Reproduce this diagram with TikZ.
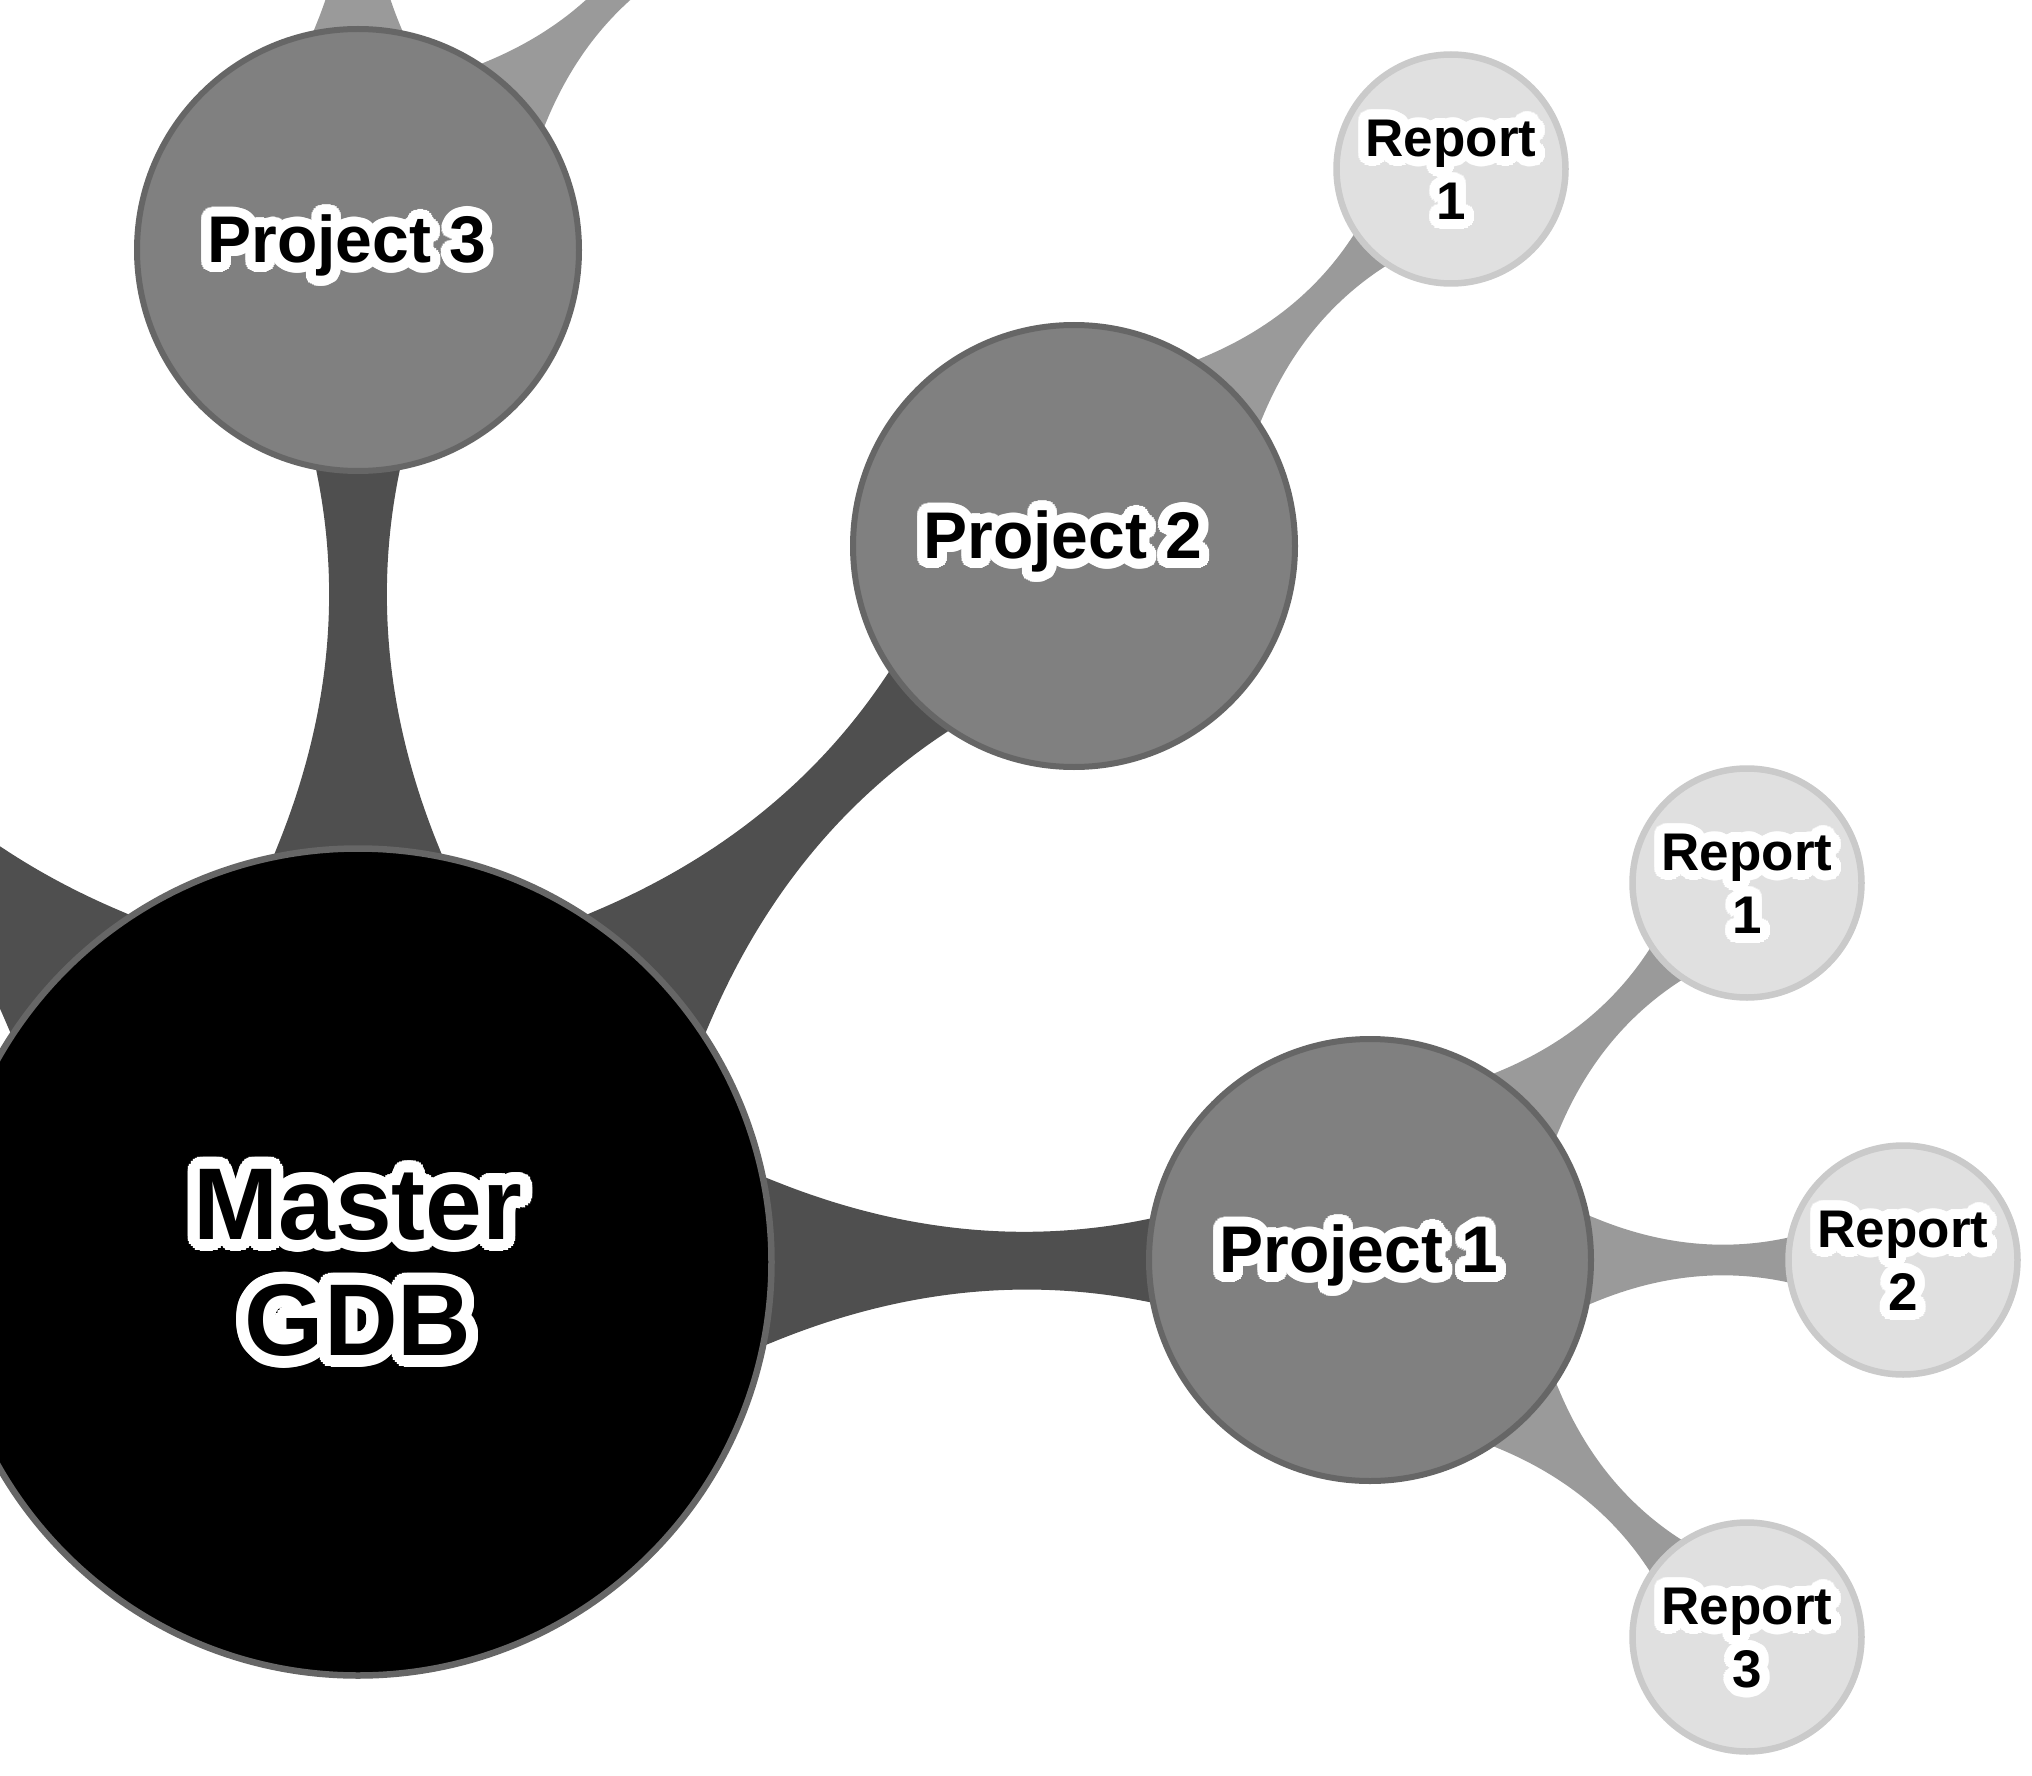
\documentclass[tikz,border=0pt]{standalone}
\usepackage{fontspec}
\setmainfont{Liberation Sans}
\usetikzlibrary{calc}
\definecolor{ringdark}{HTML}{666666}
\definecolor{projfill}{HTML}{808080}
\definecolor{repfill}{HTML}{E0E0E0}
\definecolor{repring}{HTML}{CACACA}
\definecolor{linkone}{HTML}{4F4F4F}
\definecolor{linktwo}{HTML}{9A9A9A}
\pgfdeclarelayer{bg}
\pgfsetlayers{bg,main}
\tikzset{
  masternode/.style={circle, draw=ringdark, line width=6.5pt, fill=black, minimum size=827pt, inner sep=0pt},
  projnode/.style={circle, draw=ringdark, line width=6pt, fill=projfill, minimum size=442pt, inner sep=0pt},
  repnode/.style={circle, draw=repring, line width=6.5pt, fill=repfill, minimum size=229pt, inner sep=0pt},
  mastertext/.style={inner sep=0pt, text=black, font=\bfseries\fontsize{102}{116}\selectfont},
  projtext/.style={inner sep=0pt, text=black, font=\bfseries\fontsize{66}{79}\selectfont},
  reptext/.style={inner sep=0pt, text=black, font=\bfseries\fontsize{53}{63}\selectfont},
  bandone/.style={fill=linkone},
  bandtwo/.style={fill=linktwo},
}
\newsavebox\halowbox
\newsavebox\halokbox
\newcommand\haloed[2]{%
  \sbox\halowbox{\color{white}\begin{tabular}{@{}c@{}}#2\end{tabular}}%
  \sbox\halokbox{\color{black}\begin{tabular}{@{}c@{}}#2\end{tabular}}%
  \leavevmode
  \foreach \hr/\hn in {#1/28, #1*0.6/16, #1*0.3/8}{%
    \foreach \hi in {1,...,\hn}{%
      \pgfmathsetlengthmacro\hx{(\hr)*cos(360*\hi/\hn)}%
      \pgfmathsetlengthmacro\hy{(\hr)*sin(360*\hi/\hn)}%
      \rlap{\kern\hx\raisebox{\hy}{\usebox\halowbox}}%
    }%
  }%
  \usebox\halokbox}
% tapered connector from parent #1 to child #2
% #3 parent radius, #4 child radius, #5 width scale, #6 style
\newcommand\mmband[6]{%
  \path (#1); \pgfgetlastxy{\mmPx}{\mmPy}%
  \path (#2); \pgfgetlastxy{\mmCx}{\mmCy}%
  \pgfmathsetmacro\mmAng{atan2(\mmCy-\mmPy,\mmCx-\mmPx)}%
  \pgfmathsetmacro\mmD{veclen(\mmCx-\mmPx,\mmCy-\mmPy)}%
  \pgfmathsetmacro\mmA{#3}%
  \pgfmathsetmacro\mmB{\mmD-#4}%
  \pgfmathsetmacro\mmCa{\mmA+(\mmB-\mmA)/3}%
  \pgfmathsetmacro\mmCb{\mmA+2*(\mmB-\mmA)/3}%
  \pgfmathsetmacro\mmK{#5}%
  \fill[#6, shift={(#1)}, rotate=\mmAng, x=1pt, y=1pt]
    (\mmA-30*\mmK, 92*\mmK) -- (\mmA, 80*\mmK)
    .. controls (\mmCa, 30*\mmK) and (\mmCb, 16*\mmK) .. (\mmB, 41*\mmK)
    -- (\mmB+30*\mmK, 47*\mmK) -- (\mmB+30*\mmK, -47*\mmK) -- (\mmB, -41*\mmK)
    .. controls (\mmCb, -16*\mmK) and (\mmCa, -30*\mmK) .. (\mmA, -80*\mmK)
    -- (\mmA-30*\mmK, -92*\mmK) -- cycle;
}
\begin{document}
\begin{tikzpicture}[x=1pt,y=-1pt]
\useasboundingbox (0,0) rectangle (2032,1776);
% circles
\node[masternode] (m) at (358,1262) {};
\node[projnode] (p3) at (358,250) {};
\node[projnode] (p2) at (1074,546) {};
\node[projnode] (p1) at (1370,1260) {};
\node[repnode] (r21) at (1451,169) {};
\node[repnode] (r11) at (1747,883) {};
\node[repnode] (r12) at (1903,1260) {};
\node[repnode] (r13) at (1747,1637) {};
% free ends of connectors leaving the picture
\coordinate (m4) at (-358,546);
\coordinate (p3a) at (358,-283);
\coordinate (p3b) at (735,-127);
% connectors
\begin{pgfonlayer}{bg}
  \clip (0,0) rectangle (2032,1776);
  \mmband{m}{p3}{417}{224}{1}{bandone}
  \mmband{m}{p2}{417}{224}{1}{bandone}
  \mmband{m}{p1}{417}{224}{1}{bandone}
  \mmband{m}{m4}{417}{224}{1}{bandone}
  \mmband{p2}{r21}{224}{118}{0.53}{bandtwo}
  \mmband{p1}{r11}{224}{118}{0.53}{bandtwo}
  \mmband{p1}{r12}{224}{118}{0.53}{bandtwo}
  \mmband{p1}{r13}{224}{118}{0.53}{bandtwo}
  \mmband{p3}{p3a}{224}{118}{0.53}{bandtwo}
  \mmband{p3}{p3b}{224}{118}{0.53}{bandtwo}
\end{pgfonlayer}
% texts
\node[mastertext] (mt) at ($(m)+(0,12)$) {\haloed{12}{Master\\GDB}};
\node[projtext] (p3t) at ($(p3)+(-11,-3)$) {\haloed{10}{Project 3}};
\node[projtext] (p2t) at ($(p2)+(-11,-3)$) {\haloed{10}{Project 2}};
\node[projtext] (p1t) at ($(p1)+(-11,-3)$) {\haloed{10}{Project 1}};
\node[reptext] (r21t) at ($(r21)+(0,6)$) {\haloed{10}{Report\\1}};
\node[reptext] (r11t) at ($(r11)+(0,6)$) {\haloed{10}{Report\\1}};
\node[reptext] (r12t) at ($(r12)+(0,6)$) {\haloed{10}{Report\\2}};
\node[reptext] (r13t) at ($(r13)+(0,6)$) {\haloed{10}{Report\\3}};
\end{tikzpicture}
\end{document}
